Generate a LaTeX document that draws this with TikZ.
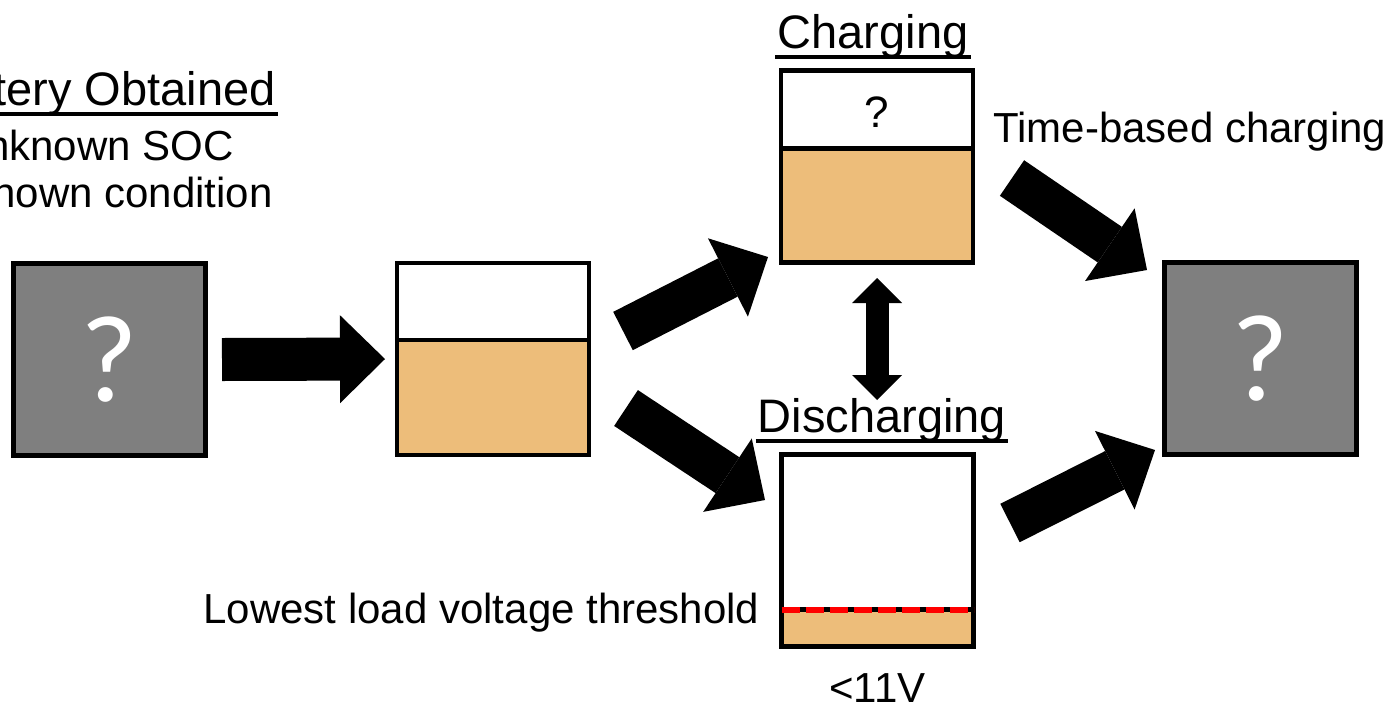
\documentclass[tikz,border=0pt]{standalone}
\usepackage{fontspec}
\setmainfont{Liberation Sans}
\newfontfamily\qfont{Carlito}
\usetikzlibrary{arrows.meta}
\definecolor{socfill}{RGB}{237,189,122}
\definecolor{boxgray}{RGB}{127,127,127}
\newcommand\bodyfont{\fontsize{42}{48}\selectfont}
\newcommand\headfont{\fontsize{47}{54}\selectfont}
\begin{document}
\begin{tikzpicture}[x=1pt,y=-1pt,line width=4.5pt,
    cell/.style={draw,minimum width=192pt,minimum height=192pt,inner sep=0pt,outer sep=0pt},
    unknown/.style={cell,fill=boxgray,text=white,font=\qfont\fontsize{124}{124}\selectfont},
    battery/.style={cell,fill=white,path picture={
        \fill[socfill] (path picture bounding box.south west) rectangle ([yshift=#1]path picture bounding box.south east);}},
    label/.style={inner sep=0pt,anchor=base,font=\bodyfont},
    head/.style={inner sep=0pt,anchor=base,font=\headfont},
    uline/.style={line width=3.5pt},
    bigarrow/.style={line width=43pt,-{Triangle[width=88pt,length=45pt,line width=0pt]}},
    duoarrow/.style={line width=23pt,{Triangle[width=50pt,length=25pt,line width=0pt]}-{Triangle[width=50pt,length=25pt,line width=0pt]}}]
  \useasboundingbox (0,0) rectangle (1394,705);
  % batteries
  \node[unknown] (gray1) at (109.5,359.5) {?};
  \node[battery=115pt] (mid) at (493,359) {};
  \node[battery=114pt] (chg) at (877,166.5) {};
  \node[battery=37pt] (dis) at (877.5,550.5) {};
  \node[unknown] (gray2) at (1260.5,358.5) {?};
  \draw ([yshift=115pt]mid.south west)--([yshift=115pt]mid.south east);
  \draw ([yshift=114pt]chg.south west)--([yshift=114pt]chg.south east);
  \coordinate (lvl) at ([yshift=37pt]dis.south west);
  \draw[line width=5pt] (lvl)--([yshift=37pt]dis.south east);
  \draw[red,line width=6pt,dash pattern=on 18pt off 6pt] (lvl)--([yshift=37pt]dis.south east);
  % texts
  \node[label,anchor=base east,font=\headfont] (obt) at (278,105) {Battery Obtained};
  \node[label,anchor=base east] (soc) at (236,160) {Unknown SOC};
  \node[label,anchor=base east] (cond) at (275,207) {Unknown condition};
  \node[head] (chghd) at (873,48) {Charging};
  \node[head] (dishd) at (882,432) {Discharging};
  \node[label,font=\fontsize{44}{50}\selectfont] (qm) at ([yshift=-56.5pt]chg.north) {?};
  \node[label,anchor=base west] (timed) at (991,142) {Time-based charging};
  \node[label,anchor=base east] (lowest) at ([shift={(-20,14)}]lvl) {Lowest load voltage threshold};
  \node[label] (volt) at ([yshift=-55.5pt]dis.south) {<11V};
  \draw[uline] ([yshift=-9pt]obt.base west)--([yshift=-9pt]obt.base east);
  \draw[uline] ([yshift=-9pt]chghd.base west)--([yshift=-9pt]chghd.base east);
  \draw[uline] ([yshift=-9pt]dishd.base west)--([yshift=-9pt]dishd.base east);
  % arrows
  \draw[bigarrow] ([xshift=16.5pt]gray1.east)--([xshift=-12pt]mid.west);
  \draw[bigarrow] ([shift={(34,-28)}]mid.east)--([shift={(-13,-5.5)}]chg.south west);
  \draw[bigarrow] ([shift={(37,49)}]mid.east)--([shift={(-16.5,45.5)}]dis.north west);
  \draw[bigarrow] ([shift={(39,11.5)}]chg.east)--([shift={(-17.5,7.5)}]gray2.north west);
  \draw[bigarrow] ([shift={(36.5,-27.5)}]dis.east)--([shift={(-9.5,-4.5)}]gray2.south west);
  \draw[duoarrow] ([yshift=-15.5pt]chg.south)--([shift={(-0.5,-54.5)}]dis.north);
\end{tikzpicture}
\end{document}
